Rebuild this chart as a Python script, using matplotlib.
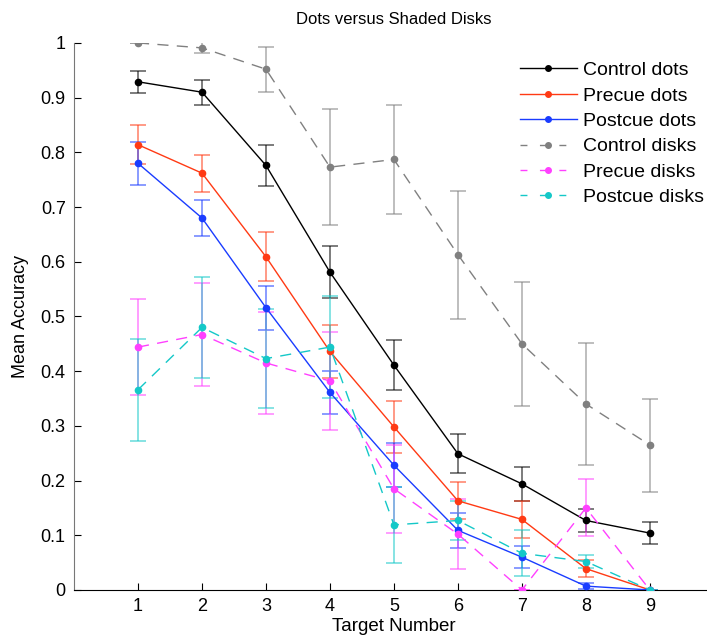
import matplotlib
matplotlib.use("Agg")
import matplotlib.pyplot as plt
from matplotlib.lines import Line2D

plt.rcParams["font.family"] = ["Liberation Sans", "DejaVu Sans"]

targets = [1, 2, 3, 4, 5, 6, 7, 8, 9]

control_dots = [0.929, 0.910, 0.776, 0.581, 0.411, 0.249, 0.194, 0.127, 0.104]
control_dots_err = [0.020, 0.023, 0.038, 0.047, 0.046, 0.036, 0.031, 0.021, 0.020]

precue_dots = [0.814, 0.762, 0.609, 0.436, 0.298, 0.163, 0.129, 0.039, 0.0]
precue_dots_err = [0.036, 0.034, 0.045, 0.048, 0.047, 0.034, 0.034, 0.016, 0.0]

postcue_dots = [0.780, 0.680, 0.516, 0.361, 0.228, 0.109, 0.060, 0.007, 0.0]
postcue_dots_err = [0.039, 0.033, 0.040, 0.040, 0.040, 0.032, 0.020, 0.005, 0.0]

control_disks = [1.0, 0.991, 0.952, 0.773, 0.787, 0.613, 0.450, 0.340, 0.265]
control_disks_err = [0.0, 0.010, 0.041, 0.106, 0.100, 0.117, 0.113, 0.112, 0.085]

precue_disks = [0.444, 0.467, 0.415, 0.382, 0.185, 0.102, 0.0, 0.150, 0.0]
precue_disks_err = [0.088, 0.095, 0.093, 0.090, 0.080, 0.064, 0.0, 0.052, 0.0]

postcue_disks = [0.366, 0.480, 0.423, 0.444, 0.119, 0.127, 0.067, 0.052, 0.0]
postcue_disks_err = [0.093, 0.093, 0.090, 0.093, 0.070, 0.035, 0.042, 0.012, 0.0]

series = [
    ("Control dots", control_dots, control_dots_err, "#000000", "-"),
    ("Precue dots", precue_dots, precue_dots_err, "#ff3a14", "-"),
    ("Postcue dots", postcue_dots, postcue_dots_err, "#1a3cff", "-"),
    ("Control disks", control_disks, control_disks_err, "#808080", (0, (8, 6))),
    ("Precue disks", precue_disks, precue_disks_err, "#ff40ff", (0, (8, 6))),
    ("Postcue disks", postcue_disks, postcue_disks_err, "#14c8c8", (0, (8, 6))),
]

fig = plt.figure(figsize=(7.07, 6.44), dpi=100)
ax = fig.add_axes([0.1047, 0.0839, 0.905, 0.8494])

handles = []
for label, vals, err, color, ls in series:
    ax.errorbar(targets, vals, yerr=err, fmt="none", ecolor=color,
                elinewidth=1.2, capsize=6, capthick=1.2, alpha=0.6, zorder=2)
    ax.plot(targets, vals, color=color, linestyle=ls, linewidth=1.0,
            marker="o", markersize=4.5, zorder=3)
    # legend handle: dashed series show short dashes round the marker
    hls = ls if ls == "-" else (0, (5, 9))
    handles.append(Line2D([], [], color=color, linestyle=hls, linewidth=1.0,
                          marker="o", markersize=4, label=label))

ax.set_xlim(0, 10)
ax.set_ylim(0, 1)
ax.set_xticks(targets)
ax.set_yticks([i / 10 for i in range(11)])
ax.set_yticklabels(["0", "0.1", "0.2", "0.3", "0.4", "0.5", "0.6", "0.7",
                    "0.8", "0.9", "1"])
ax.tick_params(direction="in", length=5, labelsize=13, pad=6)
ax.spines["top"].set_visible(False)
ax.spines["right"].set_visible(False)
ax.spines["left"].set_color("#777777")

ax.set_xlabel("Target Number", fontsize=13.5, labelpad=2)
ax.set_ylabel("Mean Accuracy", fontsize=13, labelpad=8)
ax.set_title("Dots versus Shaded Disks", fontsize=12, pad=14)

ax.legend(handles=handles, loc="upper left", bbox_to_anchor=(0.67, 0.998),
          frameon=False, fontsize=14, handlelength=2.9, labelspacing=0.4,
          handletextpad=0.35)

fig.savefig("out.png", dpi=100)
